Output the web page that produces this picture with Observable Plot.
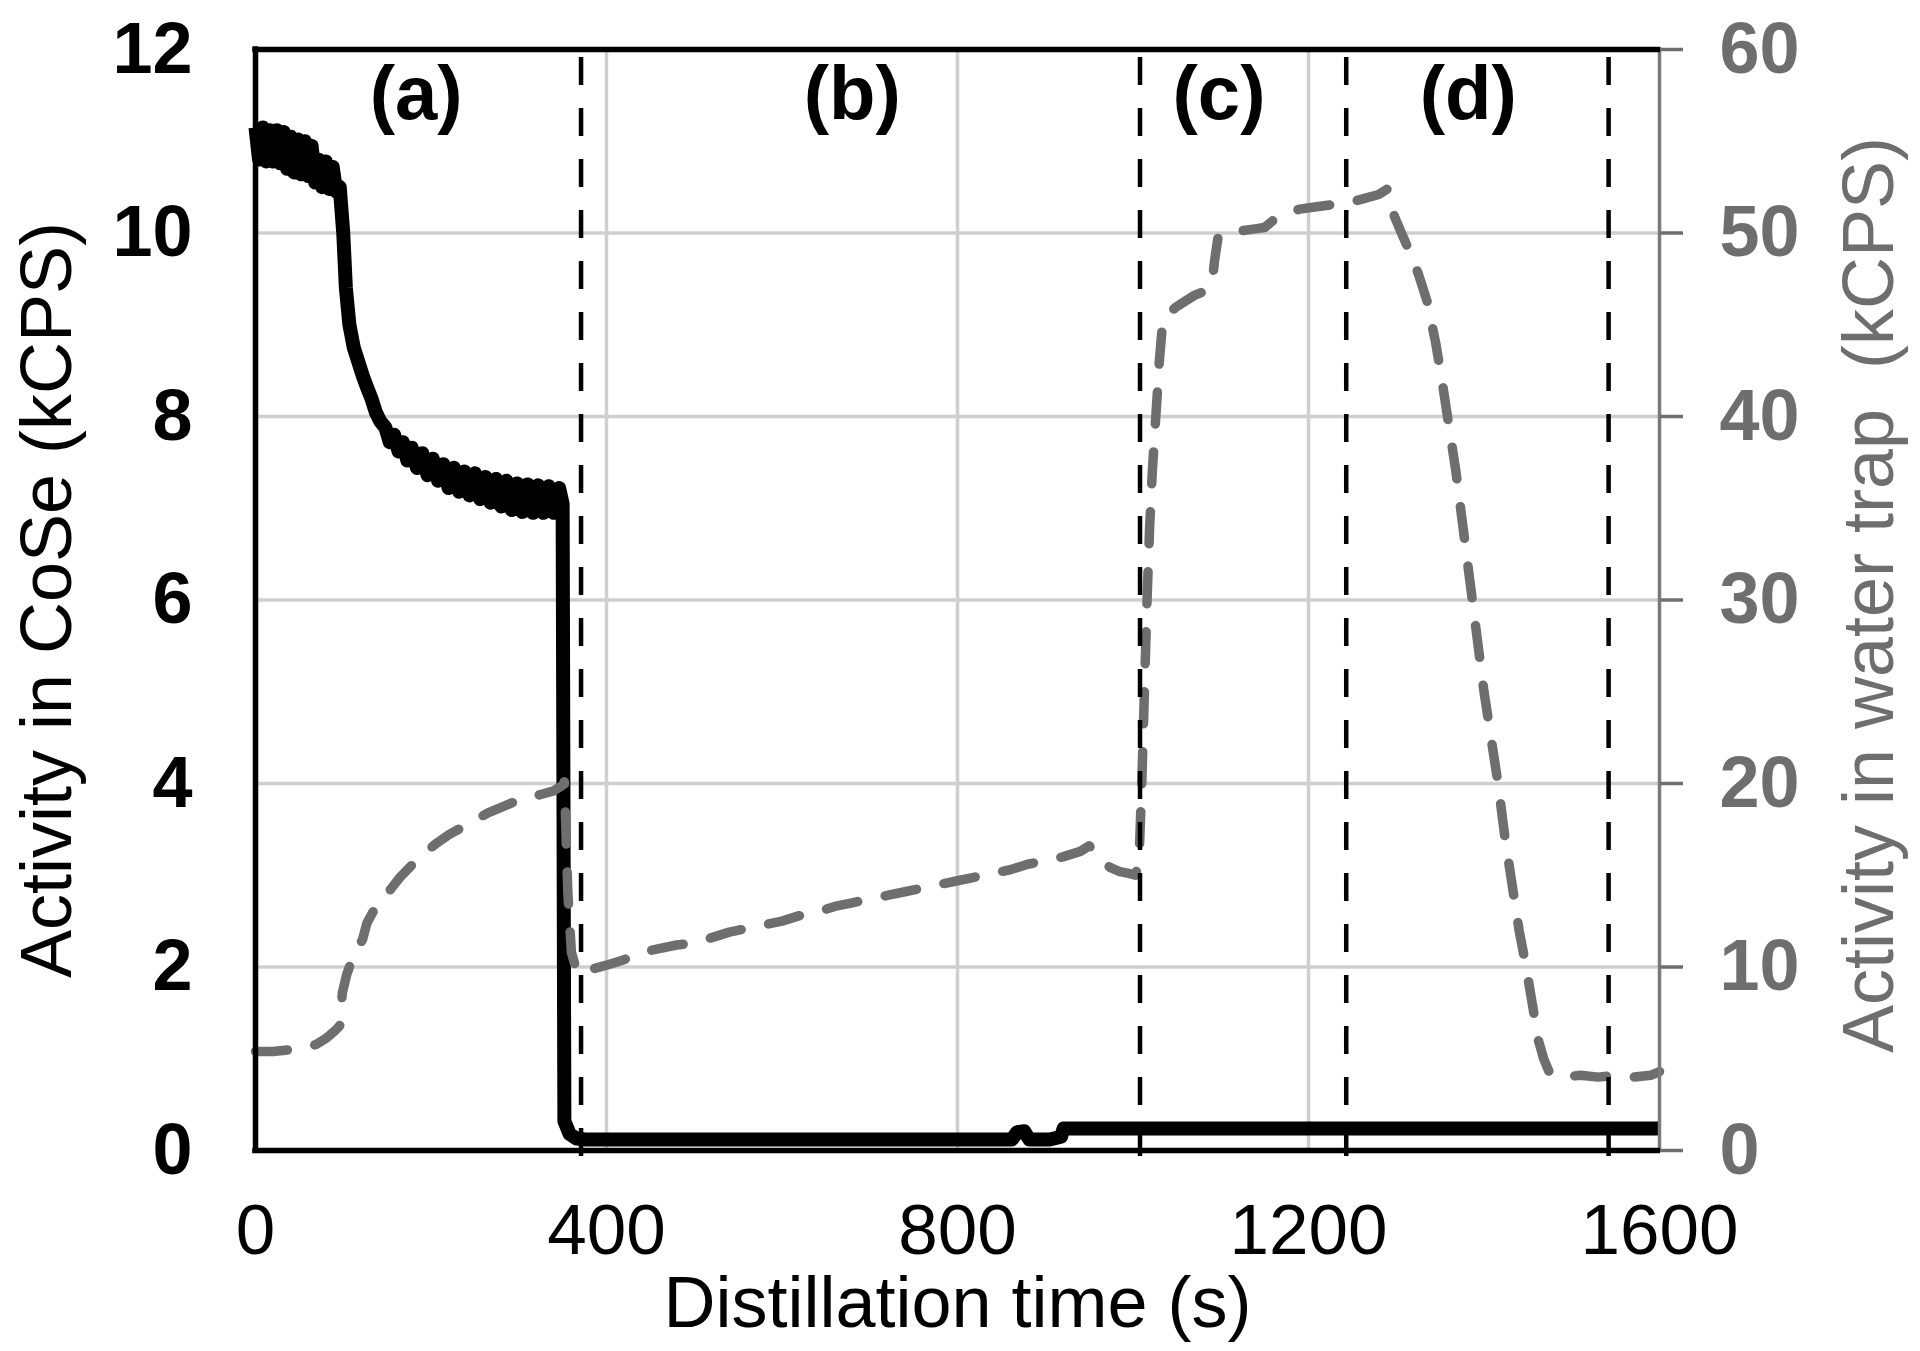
<!DOCTYPE html>
<html>
<head>
<meta charset="utf-8">
<script src="https://cdn.jsdelivr.net/npm/d3@7"></script>
<script src="https://cdn.jsdelivr.net/npm/@observablehq/plot@0.6"></script>
<style>
  html, body { margin: 0; padding: 0; background: #fff; }
  #chart svg { display: block; }
</style>
</head>
<body>
<div id="chart"></div>
<script>
// ---- Data ----
const xTicks = [0, 400, 800, 1200, 1600];
const xGrid = [400, 800, 1200];
const leftTicks = [0, 2, 4, 6, 8, 10, 12];
const leftGrid = [2, 4, 6, 8, 10];
const rightTicks = [0, 10, 20, 30, 40, 50, 60];

const phaseBounds = [371, 1008, 1243, 1542];
const phaseLabels = ["(a)", "(b)", "(c)", "(d)"];
const phaseLabelTimes = [183, 680, 1098, 1382];

// Activity in CoSe (kCPS), left axis
const coseTime = [0,4,8,12,16,20,24,28,32,36,40,44,48,52,56,60,64,68,72,76,80,84,88,92,96,100,103,107,112,117,122,127,132,137,142,148,153,158,163,168,173,178,184,190,196,202,208,214,220,226,232,238,244,250,256,262,268,274,280,286,292,298,304,310,316,322,328,334,340,346,350,352,358,366,376,450,550,650,750,850,862,868,876,882,905,918,921,1000,1100,1200,1300,1400,1500,1600];
const coseActivity = [11.15,10.8,11.15,10.78,11.12,10.78,11.12,10.76,11.1,10.7,11.05,10.66,11.02,10.64,11.0,10.62,10.95,10.55,10.8,10.5,10.78,10.48,10.72,10.45,10.5,10.0,9.4,9.0,8.75,8.6,8.45,8.32,8.2,8.05,7.95,7.88,7.72,7.8,7.62,7.72,7.52,7.66,7.44,7.6,7.36,7.54,7.3,7.48,7.22,7.44,7.18,7.4,7.14,7.38,7.1,7.34,7.06,7.32,7.02,7.3,6.98,7.27,6.96,7.26,6.95,7.25,6.95,7.24,6.95,7.22,7.05,0.32,0.18,0.13,0.12,0.12,0.12,0.12,0.12,0.12,0.12,0.2,0.21,0.12,0.12,0.15,0.24,0.24,0.24,0.24,0.24,0.24,0.24,0.24];

// Activity in water trap (kCPS), right axis
const trapTime = [0,20,40,60,70,80,90,96,99,104,110,116,122,127,135,145,155,165,175,190,205,220,235,250,265,280,295,310,325,340,350,352,356,360,366,372,385,400,420,440,460,480,500,520,540,560,580,600,620,640,660,680,700,720,740,760,780,800,820,840,860,880,900,920,940,950,958,965,975,985,995,1003,1007,1010,1013,1016,1019,1022,1026,1030,1034,1040,1050,1060,1070,1080,1090,1093,1097,1105,1120,1135,1150,1160,1175,1190,1205,1220,1235,1250,1265,1280,1290,1298,1305,1315,1325,1335,1345,1352,1360,1368,1376,1384,1392,1400,1408,1416,1424,1432,1440,1448,1455,1462,1468,1475,1490,1510,1530,1550,1570,1590,1600];
const trapActivity = [5.4,5.4,5.5,5.6,5.8,6.1,6.5,6.8,8.6,9.6,10.4,11.0,11.5,12.4,13.1,13.7,14.3,14.9,15.4,16.1,16.7,17.2,17.6,18.0,18.4,18.7,19.0,19.2,19.4,19.6,19.9,20.1,14.0,10.8,9.8,9.6,9.9,10.1,10.4,10.8,11.0,11.2,11.3,11.6,11.9,12.1,12.3,12.5,12.8,13.0,13.3,13.5,13.7,13.9,14.1,14.3,14.5,14.7,14.9,15.1,15.3,15.6,15.8,16.0,16.3,16.6,16.2,15.7,15.4,15.2,15.1,15.0,16.0,20,25,30,34,37,40,43,45.3,45.6,46.0,46.3,46.6,46.8,47.2,48.5,49.8,50.0,50.1,50.2,50.3,50.7,51.1,51.3,51.4,51.5,51.6,51.7,51.9,52.1,52.4,50.9,50.1,49.0,47.8,46.3,44.0,42.0,39.5,37.0,34.0,31.0,28.0,25.0,22.5,20.0,17.0,14.5,12.0,10.0,8.0,6.0,5.0,4.2,4.0,4.1,4.0,4.1,4.0,4.1,4.3];

// ---- Build tables ----
const cose = coseTime.map((t, i) => ({t, v: coseActivity[i]}));
const trap = trapTime.map((t, i) => ({t, w: trapActivity[i]}));
const rightToLeft = 12 / 60;   // right axis (0–60) mapped onto left axis (0–12)

const GREY = "#6e6e6e";
const GRID = "#cfcfcf";
const FONT = "'Liberation Sans', Arial, Helvetica, sans-serif";
const plain = d => String(d);

const chart = Plot.plot({
  width: 1920,
  height: 1351,
  marginLeft: 255,
  marginRight: 261,
  marginTop: 49,
  marginBottom: 201,
  style: {fontFamily: FONT, fontSize: "72px", background: "#fff", color: "black", overflow: "visible"},
  x: {domain: [0, 1600], axis: null},
  y: {domain: [0, 12], axis: null},
  marks: [
    // grid
    Plot.gridY(leftGrid, {stroke: GRID, strokeOpacity: 1, strokeWidth: 3.5}),
    Plot.gridX(xGrid, {stroke: GRID, strokeOpacity: 1, strokeWidth: 3.5}),
    // CoSe series
    Plot.line(cose, {x: "t", y: "v", stroke: "black", strokeWidth: 14, strokeLinejoin: "round", strokeLinecap: "butt"}),
    // water trap series
    Plot.line(trap, {x: "t", y: d => d.w * rightToLeft, stroke: GREY, strokeWidth: 9.5,
      strokeDasharray: "32,28", strokeLinecap: "round", strokeLinejoin: "round"}),
    // phase boundaries
    Plot.ruleX(phaseBounds, {stroke: "black", strokeWidth: 4.5, strokeDasharray: "28,23", insetTop: 8, insetBottom: -16}),
    // frame
    Plot.ruleX([1600], {stroke: "#7a7a7a", strokeWidth: 3.5, insetTop: -2, insetBottom: -2}),
    Plot.ruleY([0], {stroke: "black", strokeWidth: 5.5, insetLeft: -2.75, insetRight: -1}),
    Plot.ruleY([12], {stroke: "black", strokeWidth: 5.5, insetLeft: -2.75, insetRight: -1}),
    Plot.ruleX([0], {stroke: "black", strokeWidth: 5.5, insetTop: -2.75, insetBottom: -2.75}),
    // axes
    Plot.axisX(xTicks, {anchor: "bottom", tickSize: 0, tickPadding: 53, tickFormat: plain, fontSize: 71, label: null, color: "black"}),
    Plot.axisY(leftTicks, {anchor: "left", tickSize: 0, tickPadding: 63, tickFormat: plain, fontSize: 72, fontWeight: "bold", label: null, color: "black"}),
    Plot.axisY(rightTicks.map(v => v * rightToLeft), {anchor: "right", tickSize: 23, tickPadding: 37, strokeWidth: 3.5,
      tickFormat: d => String(Math.round(d / rightToLeft)), fontSize: 72, fontWeight: "bold", label: null, color: GREY}),
    // axis titles
    Plot.text(["Distillation time (s)"], {frameAnchor: "bottom", dy: 176, lineAnchor: "bottom", fontSize: 72, fill: "black"}),
    Plot.text(["Activity in CoSe (kCPS)"], {frameAnchor: "left", rotate: -90, dx: -208, lineAnchor: "middle", textAnchor: "middle", fontSize: 72, fill: "black"}),
    Plot.text(["Activity in water trap \u00A0(kCPS)"], {frameAnchor: "right", rotate: -90, dx: 210, dy: -5, lineAnchor: "middle", textAnchor: "middle", fontSize: 72, fill: GREY}),
    // phase labels
    Plot.text(phaseLabels, {x: (d, i) => phaseLabelTimes[i], frameAnchor: "top", dy: 45, lineAnchor: "middle",
      fontSize: 76, fontWeight: "bold", fill: "black"})
  ]
});
document.getElementById("chart").appendChild(chart);
</script>
</body>
</html>
